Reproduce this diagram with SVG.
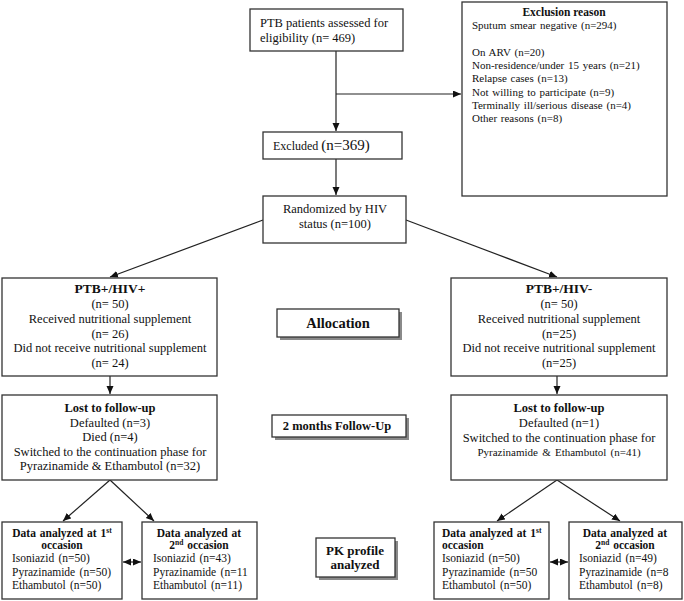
<svg xmlns="http://www.w3.org/2000/svg" width="684" height="601" viewBox="0 0 684 601">
<style>
  text { font-family: "Liberation Serif", "Times New Roman", serif; fill: #111; }
  .box { fill: #fff; stroke: #333; stroke-width: 1.3; }
  .shadow { fill: #8a8a8a; }
  .t { font-size: 12.5px; }
  .c { text-anchor: middle; }
  .b { font-weight: bold; }
  .h { font-size: 13.5px; font-weight: bold; }
  .ex { font-size: 11px; word-spacing: 1px; }
  .d { font-size: 11.5px; word-spacing: 1.5px; }
  .dh { font-size: 11.5px; font-weight: bold; word-spacing: 1px; }
  .conn line, .conn path { stroke: #222; stroke-width: 1.2; fill: none; }
</style>
<defs>
  <marker id="ah" markerUnits="userSpaceOnUse" markerWidth="9" markerHeight="8" refX="8" refY="3.5" orient="auto-start-reverse">
    <path d="M0,0 L8,3.5 L0,7 z" fill="#111"/>
  </marker>
</defs>

<g class="conn" id="connectors">
  <line x1="336" y1="51" x2="336" y2="131" marker-end="url(#ah)"/>
  <line x1="336" y1="94" x2="461" y2="94" marker-end="url(#ah)"/>
  <line x1="336" y1="159" x2="336" y2="195" marker-end="url(#ah)"/>
  <line x1="263" y1="220" x2="110" y2="277" marker-end="url(#ah)"/>
  <line x1="406" y1="220" x2="557" y2="277" marker-end="url(#ah)"/>
  <line x1="110" y1="376" x2="110" y2="394" marker-end="url(#ah)"/>
  <line x1="557" y1="376" x2="557" y2="394" marker-end="url(#ah)"/>
  <line x1="110" y1="480" x2="63" y2="521" marker-end="url(#ah)"/>
  <line x1="110" y1="480" x2="154" y2="521" marker-end="url(#ah)"/>
  <line x1="557" y1="480" x2="497" y2="521" marker-end="url(#ah)"/>
  <line x1="557" y1="480" x2="620" y2="521" marker-end="url(#ah)"/>
  <line x1="123" y1="562" x2="141" y2="562" marker-start="url(#ah)" marker-end="url(#ah)"/>
  <line x1="550" y1="562" x2="568" y2="562" marker-start="url(#ah)" marker-end="url(#ah)"/>
</g>

<g id="assessed">
  <rect class="box" x="250" y="9" width="153" height="42"/>
  <text class="t" x="260" y="27">PTB patients assessed for</text>
  <text class="t" x="260" y="42">eligibility (n= 469)</text>
</g>

<g id="exclusion-reason">
  <rect class="box" x="462" y="2" width="205" height="194"/>
  <text class="c b" x="564" y="16" font-size="11.5">Exclusion reason</text>
  <text class="ex" x="472" y="29">Sputum smear negative (n=294)</text>
  <text class="ex" x="472" y="56">On ARV (n=20)</text>
  <text class="ex" x="472" y="69">Non-residence/under 15 years (n=21)</text>
  <text class="ex" x="472" y="82">Relapse cases (n=13)</text>
  <text class="ex" x="472" y="96">Not willing to participate (n=9)</text>
  <text class="ex" x="472" y="109">Terminally ill/serious disease (n=4)</text>
  <text class="ex" x="472" y="122">Other reasons (n=8)</text>
</g>

<g id="excluded">
  <rect class="box" x="263" y="132" width="139" height="27"/>
  <text x="273" y="150"><tspan font-size="12">Excluded </tspan><tspan font-size="15">(n=369)</tspan></text>
</g>

<g id="randomized">
  <rect class="box" x="263" y="196" width="143" height="47"/>
  <text class="t c" x="335" y="213">Randomized by HIV</text>
  <text class="t c" x="335" y="228">status (n=100)</text>
</g>

<g id="hiv-pos">
  <rect class="box" x="2" y="278" width="215" height="98"/>
  <text class="h c" x="110" y="293">PTB+/HIV+</text>
  <text class="t c" x="110" y="308">(n= 50)</text>
  <text class="t c" x="110" y="323">Received nutritional supplement</text>
  <text class="t c" x="110" y="338">(n= 26)</text>
  <text class="t c" x="110" y="352">Did not receive nutritional supplement</text>
  <text class="t c" x="110" y="367">(n= 24)</text>
</g>

<g id="hiv-neg">
  <rect class="box" x="451" y="278" width="216" height="98"/>
  <text class="h c" x="559" y="293">PTB+/HIV-</text>
  <text class="t c" x="559" y="308">(n= 50)</text>
  <text class="t c" x="559" y="323">Received nutritional supplement</text>
  <text class="t c" x="559" y="338">(n=25)</text>
  <text class="t c" x="559" y="352">Did not receive nutritional supplement</text>
  <text class="t c" x="559" y="367">(n=25)</text>
</g>

<g id="allocation">
  <rect class="shadow" x="280" y="312" width="122" height="28"/>
  <rect class="box" x="277" y="309" width="122" height="28"/>
  <text class="c b" x="338" y="328" font-size="14.5">Allocation</text>
</g>

<g id="lost-left">
  <rect class="box" x="2" y="395" width="215" height="85"/>
  <text class="t c b" x="110" y="412">Lost to follow-up</text>
  <text class="t c" x="110" y="427">Defaulted (n=3)</text>
  <text class="t c" x="110" y="441">Died (n=4)</text>
  <text class="t c" x="110" y="456">Switched to the continuation phase for</text>
  <text class="t c" x="110" y="470">Pyrazinamide &amp; Ethambutol (n=32)</text>
</g>

<g id="followup">
  <rect class="shadow" x="275" y="418" width="134" height="22"/>
  <rect class="box" x="272" y="415" width="134" height="22"/>
  <text class="t c b" x="337" y="430">2 months Follow-Up</text>
</g>

<g id="lost-right">
  <rect class="box" x="451" y="395" width="216" height="85"/>
  <text class="t c b" x="559" y="412">Lost to follow-up</text>
  <text class="t c" x="559" y="427">Defaulted (n=1)</text>
  <text class="t c" x="559" y="442">Switched to the continuation phase for</text>
  <text class="c" x="559" y="456" font-size="11" word-spacing="1.5">Pyrazinamide &amp; Ethambutol (n=41)</text>
</g>

<g id="data-l1">
  <rect class="box" x="2" y="522" width="120" height="77"/>
  <text class="dh c" x="62" y="537">Data analyzed at 1<tspan font-size="7.5" dy="-4">st</tspan></text>
  <text class="dh c" x="62" y="549">occasion</text>
  <text class="d" x="12" y="562">Isoniazid (n=50)</text>
  <text class="d" x="12" y="576">Pyrazinamide (n=50)</text>
  <text class="d" x="12" y="589">Ethambutol (n=50)</text>
</g>

<g id="data-l2">
  <rect class="box" x="142" y="522" width="115" height="77"/>
  <text class="dh c" x="199" y="537">Data analyzed at</text>
  <text class="dh c" x="199" y="549">2<tspan font-size="7.5" dy="-4">nd</tspan><tspan dy="4"> occasion</tspan></text>
  <text class="d" x="153" y="562">Isoniazid (n=43)</text>
  <text class="d" x="153" y="576">Pyrazinamide (n=11</text>
  <text class="d" x="153" y="589">Ethambutol (n=11)</text>
</g>

<g id="pk-profile">
  <rect class="shadow" x="319" y="541" width="79" height="39"/>
  <rect class="box" x="316" y="538" width="79" height="39"/>
  <text class="c b" x="355" y="555" font-size="13">PK profile</text>
  <text class="c b" x="355" y="569" font-size="13">analyzed</text>
</g>

<g id="data-r1">
  <rect class="box" x="434" y="522" width="115" height="77"/>
  <text class="dh" x="442" y="537">Data analyzed at 1<tspan font-size="7.5" dy="-4">st</tspan></text>
  <text class="dh" x="442" y="549">occasion</text>
  <text class="d" x="442" y="562">Isoniazid (n=50)</text>
  <text class="d" x="442" y="576">Pyrazinamide (n=50</text>
  <text class="d" x="442" y="589">Ethambutol (n=50)</text>
</g>

<g id="data-r2">
  <rect class="box" x="569" y="522" width="113" height="77"/>
  <text class="dh c" x="625" y="537">Data analyzed at</text>
  <text class="dh c" x="625" y="549">2<tspan font-size="7.5" dy="-4">nd</tspan><tspan dy="4"> occasion</tspan></text>
  <text class="d" x="579" y="562">Isoniazid (n=49)</text>
  <text class="d" x="579" y="576">Pyrazinamide (n=8</text>
  <text class="d" x="579" y="589">Ethambutol (n=8)</text>
</g>
</svg>
